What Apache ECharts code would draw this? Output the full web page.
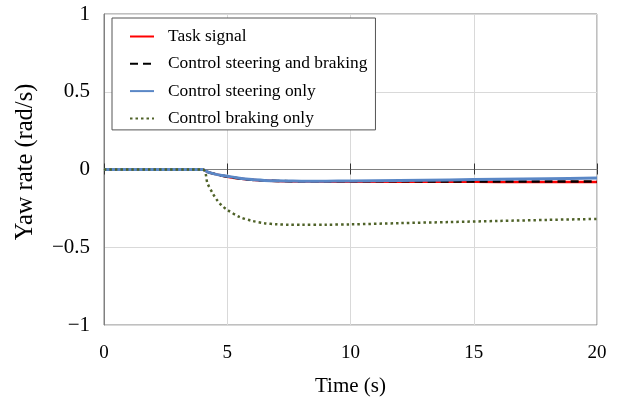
<!DOCTYPE html>
<html>
<head>
<meta charset="utf-8">
<script src="https://cdn.jsdelivr.net/npm/echarts@6/dist/echarts.min.js"></script>
<style>
  html, body { margin: 0; padding: 0; background: #fff; }
  #chart { width: 620px; height: 405px; }
</style>
</head>
<body>
<div id="chart"></div>
<script>
// time points (s)
const time = [0, 4, 4.2, 4.4, 4.6, 4.8, 5, 5.5, 6, 6.5, 7, 7.5, 8, 9, 10, 12, 14, 16, 18, 20]

// yaw rate (rad/s)
const taskSignal = [0, 0, -0.015, -0.025, -0.033, -0.04, -0.046, -0.058, -0.066, -0.071, -0.074, -0.076, -0.077, -0.078, -0.078, -0.079, -0.079, -0.08, -0.08, -0.08]
const steeringBraking = [0, 0, -0.015, -0.025, -0.033, -0.04, -0.046, -0.058, -0.066, -0.071, -0.074, -0.075, -0.076, -0.076, -0.076, -0.076, -0.077, -0.077, -0.077, -0.078]
const steeringOnly = [0, 0, -0.015, -0.025, -0.033, -0.038, -0.043, -0.056, -0.065, -0.07, -0.073, -0.074, -0.075, -0.075, -0.074, -0.071, -0.067, -0.063, -0.059, -0.055]
const brakingOnly = [0, 0, -0.09, -0.15, -0.2, -0.235, -0.26, -0.305, -0.33, -0.345, -0.352, -0.355, -0.356, -0.355, -0.353, -0.345, -0.338, -0.331, -0.324, -0.318]

const xTicks = [0, 5, 10, 15, 20]
const yTicks = [-1, -0.5, 0, 0.5, 1]

const pairs = (ys) => time.map((t, i) => [t, ys[i]])
const font = '"Liberation Serif", "Times New Roman", serif'

const chart = echarts.init(document.getElementById('chart'))

const gridTop = 14
const gridBottom = 80
const plotH = 405 - gridTop - gridBottom
// distance from bottom edge to the y = 0 line
const zeroOffset = plotH * (0 - yTicks[0]) / (yTicks[yTicks.length - 1] - yTicks[0])

const option = {
  animation: false,
  backgroundColor: '#fff',
  textStyle: { fontFamily: font },
  grid: {
    left: 104,
    right: 23,
    top: gridTop,
    bottom: gridBottom,
    show: true,
    borderColor: '#808080',
    borderWidth: 1,
  },
  legend: {
    orient: 'vertical',
    left: 112,
    top: 18,
    padding: [10, 8, 3, 17],
    itemWidth: 24,
    itemHeight: 18,
    itemGap: 10.3,
    backgroundColor: '#fff',
    borderColor: '#555',
    borderWidth: 1,
    borderRadius: 0,
    itemStyle: { opacity: 0 },
    textStyle: { fontFamily: font, fontSize: 17.4, color: '#000', padding: [0, 0, 0, 9] },
    data: ['Task signal', 'Control steering and braking', 'Control steering only', 'Control braking only'],
  },
  xAxis: [
    {
      type: 'value',
      min: xTicks[0],
      max: xTicks[xTicks.length - 1],
      interval: 5,
      position: 'bottom',
      axisLine: { onZero: false, show: false },
      axisTick: { show: false },
      axisLabel: { fontFamily: font, fontSize: 19, color: '#000', margin: 19 },
      splitLine: { show: true, lineStyle: { color: '#d9d9d9', width: 1 } },
      name: 'Time (s)',
      nameLocation: 'middle',
      nameGap: 51,
      nameTextStyle: { fontFamily: font, fontSize: 21, color: '#000' },
    },
    {
      type: 'value',
      min: xTicks[0],
      max: xTicks[xTicks.length - 1],
      interval: 5,
      position: 'bottom',
      offset: -zeroOffset,
      axisLine: { onZero: false, lineStyle: { color: '#808080', width: 1 } },
      axisTick: { show: true, inside: true, length: 6, lineStyle: { color: '#333' } },
      axisLabel: { show: false },
      splitLine: { show: false },
    },
    {
      type: 'value',
      min: xTicks[0],
      max: xTicks[xTicks.length - 1],
      interval: 5,
      position: 'bottom',
      offset: -zeroOffset,
      axisLine: { onZero: false, show: false },
      axisTick: { show: true, inside: false, length: 5, lineStyle: { color: '#333' } },
      axisLabel: { show: false },
      splitLine: { show: false },
    },
  ],
  yAxis: {
    type: 'value',
    min: yTicks[0],
    max: yTicks[yTicks.length - 1],
    interval: 0.5,
    axisLine: { show: true, lineStyle: { color: '#808080' } },
    axisTick: { show: false },
    axisLabel: {
      fontFamily: font,
      fontSize: 21,
      color: '#000',
      margin: 14,
      formatter: (v) => String(v).replace('-', '\u2212'),
    },
    splitLine: { show: true, lineStyle: { color: '#d9d9d9', width: 1 } },
    name: 'Yaw rate (rad/s)',
    nameLocation: 'middle',
    nameGap: 66,
    nameTextStyle: { fontFamily: font, fontSize: 24.5, color: '#000', padding: [0, 0, 0, 15] },
  },
  series: [
    {
      name: 'Task signal',
      type: 'line',
      smooth: 0.3,
      symbol: 'none',
      data: pairs(taskSignal),
      lineStyle: { color: '#ff0000', width: 2.5 },
      itemStyle: { color: '#ff0000' },
    },
    {
      name: 'Control steering and braking',
      type: 'line',
      smooth: 0.3,
      symbol: 'none',
      data: pairs(steeringBraking),
      lineStyle: { color: '#000', width: 2.5, type: [8, 5] },
      itemStyle: { color: '#000' },
    },
    {
      name: 'Control steering only',
      type: 'line',
      smooth: 0.3,
      symbol: 'none',
      data: pairs(steeringOnly),
      lineStyle: { color: '#5a87c6', width: 3 },
      itemStyle: { color: '#5a87c6' },
    },
    {
      name: 'Control braking only',
      type: 'line',
      smooth: 0.3,
      symbol: 'none',
      data: pairs(brakingOnly),
      lineStyle: { color: '#4f6228', width: 2.5, type: [2.5, 3] },
      itemStyle: { color: '#4f6228' },
    },
  ],
}

chart.setOption(option)
</script>
</body>
</html>
